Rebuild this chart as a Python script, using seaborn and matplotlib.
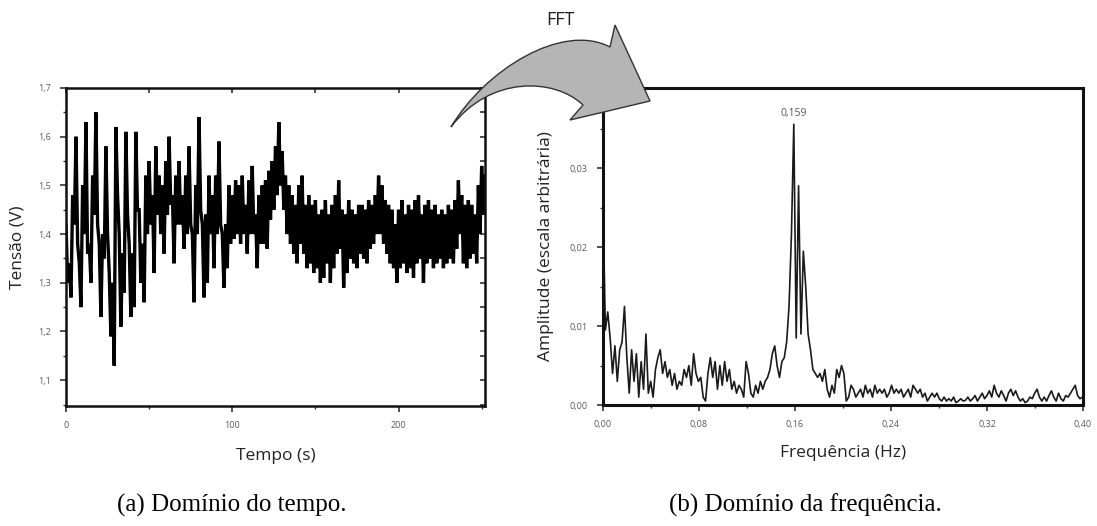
import numpy as np
import pandas as pd
import matplotlib
matplotlib.use("Agg")
import matplotlib.pyplot as plt
import seaborn as sns
from matplotlib.path import Path
from matplotlib.patches import PathPatch
from matplotlib.ticker import FuncFormatter, MultipleLocator, FixedLocator

# ---------------- data ----------------
# (a) time-domain signal, one sample per second, t = 0 .. 252 s
tempo_s = np.arange(0, 253)
tensao_v = [
    1.42, 1.30, 1.34, 1.27, 1.48, 1.42, 1.60, 1.38, 1.34, 1.25,
    1.50, 1.40, 1.63, 1.36, 1.38, 1.30, 1.52, 1.44, 1.65, 1.42,
    1.38, 1.23, 1.40, 1.35, 1.58, 1.40, 1.32, 1.19, 1.30, 1.13,
    1.62, 1.48, 1.40, 1.21, 1.36, 1.28, 1.61, 1.44, 1.38, 1.23,
    1.36, 1.25, 1.61, 1.45, 1.45, 1.30, 1.38, 1.26, 1.52, 1.40,
    1.55, 1.42, 1.48, 1.32, 1.58, 1.44, 1.52, 1.40, 1.50, 1.36,
    1.55, 1.44, 1.60, 1.46, 1.48, 1.34, 1.52, 1.42, 1.55, 1.42,
    1.48, 1.37, 1.52, 1.40, 1.58, 1.42, 1.40, 1.26, 1.50, 1.40,
    1.64, 1.45, 1.42, 1.27, 1.44, 1.30, 1.52, 1.40, 1.48, 1.33,
    1.52, 1.40, 1.59, 1.42, 1.40, 1.29, 1.42, 1.33, 1.50, 1.38,
    1.48, 1.39, 1.51, 1.40, 1.50, 1.38, 1.52, 1.40, 1.46, 1.36,
    1.51, 1.40, 1.54, 1.40, 1.44, 1.33, 1.48, 1.38, 1.50, 1.38,
    1.51, 1.37, 1.53, 1.43, 1.55, 1.45, 1.58, 1.48, 1.63, 1.50,
    1.57, 1.45, 1.52, 1.40, 1.50, 1.38, 1.48, 1.36, 1.46, 1.34,
    1.50, 1.38, 1.52, 1.36, 1.46, 1.33, 1.48, 1.34, 1.46, 1.32,
    1.47, 1.33, 1.44, 1.30, 1.45, 1.31, 1.47, 1.34, 1.44, 1.30,
    1.46, 1.33, 1.48, 1.36, 1.51, 1.37, 1.45, 1.29, 1.44, 1.32,
    1.47, 1.35, 1.45, 1.34, 1.44, 1.33, 1.46, 1.36, 1.46, 1.35,
    1.45, 1.34, 1.47, 1.37, 1.46, 1.38, 1.48, 1.40, 1.52, 1.40,
    1.50, 1.38, 1.47, 1.36, 1.46, 1.34, 1.45, 1.33, 1.42, 1.30,
    1.45, 1.33, 1.47, 1.34, 1.44, 1.32, 1.46, 1.33, 1.45, 1.31,
    1.47, 1.34, 1.48, 1.35, 1.44, 1.30, 1.46, 1.34, 1.47, 1.35,
    1.45, 1.33, 1.46, 1.34, 1.44, 1.35, 1.45, 1.33, 1.44, 1.34,
    1.46, 1.35, 1.45, 1.34, 1.47, 1.37, 1.51, 1.40, 1.48, 1.34,
    1.46, 1.33, 1.47, 1.35, 1.46, 1.36, 1.44, 1.34, 1.50, 1.40,
    1.54, 1.44, 1.52,
]

# (b) amplitude spectrum, frequency bins of 0.159/80 Hz (bin 80 = 0.159 Hz)
freq_step_hz = 0.159 / 80
amplitude = [
    0.0255, 0.0095, 0.0118, 0.0085, 0.0040, 0.0075, 0.0030, 0.0070, 0.0080, 0.0125,
    0.0060, 0.0015, 0.0070, 0.0030, 0.0065, 0.0010, 0.0055, 0.0020, 0.0090, 0.0015,
    0.0030, 0.0010, 0.0045, 0.0060, 0.0070, 0.0040, 0.0055, 0.0035, 0.0045, 0.0025,
    0.0040, 0.0020, 0.0030, 0.0025, 0.0045, 0.0035, 0.0050, 0.0025, 0.0065, 0.0040,
    0.0030, 0.0035, 0.0010, 0.0005, 0.0040, 0.0060, 0.0035, 0.0055, 0.0020, 0.0050,
    0.0025, 0.0055, 0.0030, 0.0045, 0.0020, 0.0030, 0.0015, 0.0025, 0.0020, 0.0010,
    0.0055, 0.0040, 0.0015, 0.0010, 0.0025, 0.0015, 0.0030, 0.0020, 0.0030, 0.0035,
    0.0045, 0.0065, 0.0075, 0.0050, 0.0035, 0.0055, 0.0060, 0.0080, 0.0125, 0.0215,
    0.0356, 0.0085, 0.0278, 0.0090, 0.0195, 0.0150, 0.0090, 0.0070, 0.0045, 0.0040,
    0.0035, 0.0040, 0.0030, 0.0045, 0.0020, 0.0010, 0.0025, 0.0015, 0.0045, 0.0035,
    0.0050, 0.0040, 0.0005, 0.0010, 0.0025, 0.0020, 0.0010, 0.0015, 0.0020, 0.0010,
    0.0025, 0.0015, 0.0020, 0.0010, 0.0025, 0.0015, 0.0020, 0.0015, 0.0020, 0.0010,
    0.0015, 0.0025, 0.0015, 0.0020, 0.0015, 0.0020, 0.0010, 0.0015, 0.0020, 0.0010,
    0.0025, 0.0020, 0.0015, 0.0020, 0.0010, 0.0015, 0.0005, 0.0010, 0.0015, 0.0010,
    0.0015, 0.0008, 0.0005, 0.0010, 0.0005, 0.0008, 0.0005, 0.0010, 0.0003, 0.0005,
    0.0008, 0.0005, 0.0006, 0.0010, 0.0005, 0.0008, 0.0012, 0.0005, 0.0010, 0.0015,
    0.0008, 0.0012, 0.0018, 0.0010, 0.0025, 0.0015, 0.0010, 0.0018, 0.0012, 0.0005,
    0.0015, 0.0020, 0.0012, 0.0018, 0.0010, 0.0005, 0.0008, 0.0003, 0.0005, 0.0010,
    0.0008, 0.0015, 0.0020, 0.0010, 0.0005, 0.0010, 0.0005, 0.0012, 0.0018, 0.0010,
    0.0005, 0.0015, 0.0008, 0.0005, 0.0012, 0.0010, 0.0015, 0.0020, 0.0025, 0.0012,
    0.0008, 0.0010,
]
frequencia_hz = np.arange(len(amplitude)) * freq_step_hz
peak_label = "0,159"

df_t = pd.DataFrame({"t": tempo_s, "v": tensao_v})
df_f = pd.DataFrame({"f": frequencia_hz, "a": amplitude})

# ---------------- style ----------------
sns.set_theme(style="ticks")
plt.rcParams["font.family"] = ["Open Sans", "DejaVu Sans"]
plt.rcParams["path.simplify"] = False

W, H = 1097, 526
fig = plt.figure(figsize=(W / 100, H / 100), dpi=100)
fig.patch.set_facecolor("white")

def px(x0, y0, x1, y1):
    return [x0 / W, 1 - y1 / H, (x1 - x0) / W, (y1 - y0) / H]

ax1 = fig.add_axes(px(66, 88, 485, 406))
ax2 = fig.add_axes(px(603, 88, 1083, 405))

comma = lambda fmt: FuncFormatter(lambda v, p: fmt.format(v).replace(".", ","))
tick_color = "#5a5a5a"
tick_size = 6.5

# ---- (a) time domain ----
sns.lineplot(data=df_t, x="t", y="v", ax=ax1, color="black", linewidth=2.4)
for ln in ax1.get_lines():
    ln.set_solid_joinstyle("miter")
ax1.set_xlim(0, 252)
ax1.set_ylim(1.047, 1.7)
ax1.xaxis.set_major_locator(FixedLocator([0, 100, 200]))
ax1.xaxis.set_minor_locator(FixedLocator([50, 150, 250]))
ax1.yaxis.set_major_locator(MultipleLocator(0.1))
ax1.yaxis.set_minor_locator(MultipleLocator(0.05))
ax1.xaxis.set_major_formatter(comma("{:.0f}"))
ax1.yaxis.set_major_formatter(comma("{:.1f}"))
ax1.tick_params(which="both", direction="out", colors="#333333",
                labelcolor=tick_color, labelsize=tick_size, top=False, right=False)
ax1.tick_params(which="major", length=4, width=1.2, pad=7)
ax1.tick_params(which="minor", length=2.5, width=1)
# mirrored inward ticks on top and right (Origin style)
top = ax1.secondary_xaxis("top")
top.xaxis.set_major_locator(MultipleLocator(50))
top.tick_params(direction="in", length=3.5, width=1.2, labeltop=False, colors="#333333")
right = ax1.secondary_yaxis("right")
right.yaxis.set_major_locator(MultipleLocator(0.05))
right.tick_params(direction="in", length=3.5, width=1.2, labelright=False, colors="#333333")
for a in (top, right):
    for s in a.spines.values():
        s.set_visible(False)
for s in ax1.spines.values():
    s.set_linewidth(1.8)
    s.set_color("#111111")
ax1.set_xlabel("Tempo (s)", fontsize=12.5, color="#222222", labelpad=13)
ax1.set_ylabel("Tensão (V)", fontsize=12.5, color="#222222", labelpad=9)

# ---- (b) frequency domain ----
sns.lineplot(data=df_f, x="f", y="a", ax=ax2, color="#1a1a1a", linewidth=1.2)
ax2.set_xlim(0, 0.40)
ax2.set_ylim(0, 0.0402)
ax2.xaxis.set_major_locator(MultipleLocator(0.08))
ax2.xaxis.set_minor_locator(MultipleLocator(0.04))
ax2.yaxis.set_major_locator(FixedLocator([0, 0.01, 0.02, 0.03]))
ax2.yaxis.set_minor_locator(FixedLocator([0.005, 0.015, 0.025, 0.035]))
ax2.xaxis.set_major_formatter(comma("{:.2f}"))
ax2.yaxis.set_major_formatter(comma("{:.2f}"))
ax2.tick_params(which="both", direction="out", colors="#333333",
                labelcolor=tick_color, labelsize=tick_size)
ax2.tick_params(which="major", length=4, width=1.2, pad=7)
ax2.tick_params(which="minor", length=2.5, width=1)
for s in ax2.spines.values():
    s.set_linewidth(2.2)
    s.set_color("#111111")
ax2.set_xlabel("Frequência (Hz)", fontsize=12.5, color="#222222", labelpad=11)
ax2.set_ylabel("Amplitude (escala arbitrária)", fontsize=12.5, color="#222222", labelpad=11)
i_peak = int(np.argmax(amplitude))
ax2.annotate(peak_label, xy=(frequencia_hz[i_peak], amplitude[i_peak]),
             xytext=(0, 4), textcoords="offset points", ha="center", va="bottom",
             fontsize=7.5, color="#555555")

# ---- FFT arrow ----
def P(x, y):
    return (x / W, 1 - y / H)

verts = [P(451, 127), P(485, 70), P(562, 22), P(610, 47),
         P(615, 25), P(650, 101), P(570, 120), P(583, 105),
         P(555, 78), P(490, 75), P(451, 127), P(451, 127)]
codes = [Path.MOVETO, Path.CURVE4, Path.CURVE4, Path.CURVE4,
         Path.LINETO, Path.LINETO, Path.LINETO, Path.LINETO,
         Path.CURVE4, Path.CURVE4, Path.CURVE4, Path.CLOSEPOLY]
arrow = PathPatch(Path(verts, codes), transform=fig.transFigure,
                  facecolor="#b5b5b5", edgecolor="#333333", linewidth=1.0, zorder=10)
fig.patches.append(arrow)
fig.text(560 / W, 1 - 20 / H, "FFT", ha="center", va="center", fontsize=13, color="#222222")

# ---- captions ----
fig.text(232 / W, 1 - 505 / H, "(a) Domínio do tempo.", ha="center", va="center",
         fontsize=18, family="Liberation Serif", color="black")
fig.text(805 / W, 1 - 505 / H, "(b) Domínio da frequência.", ha="center", va="center",
         fontsize=18, family="Liberation Serif", color="black")

fig.savefig("out.png", dpi=100, facecolor="white")
